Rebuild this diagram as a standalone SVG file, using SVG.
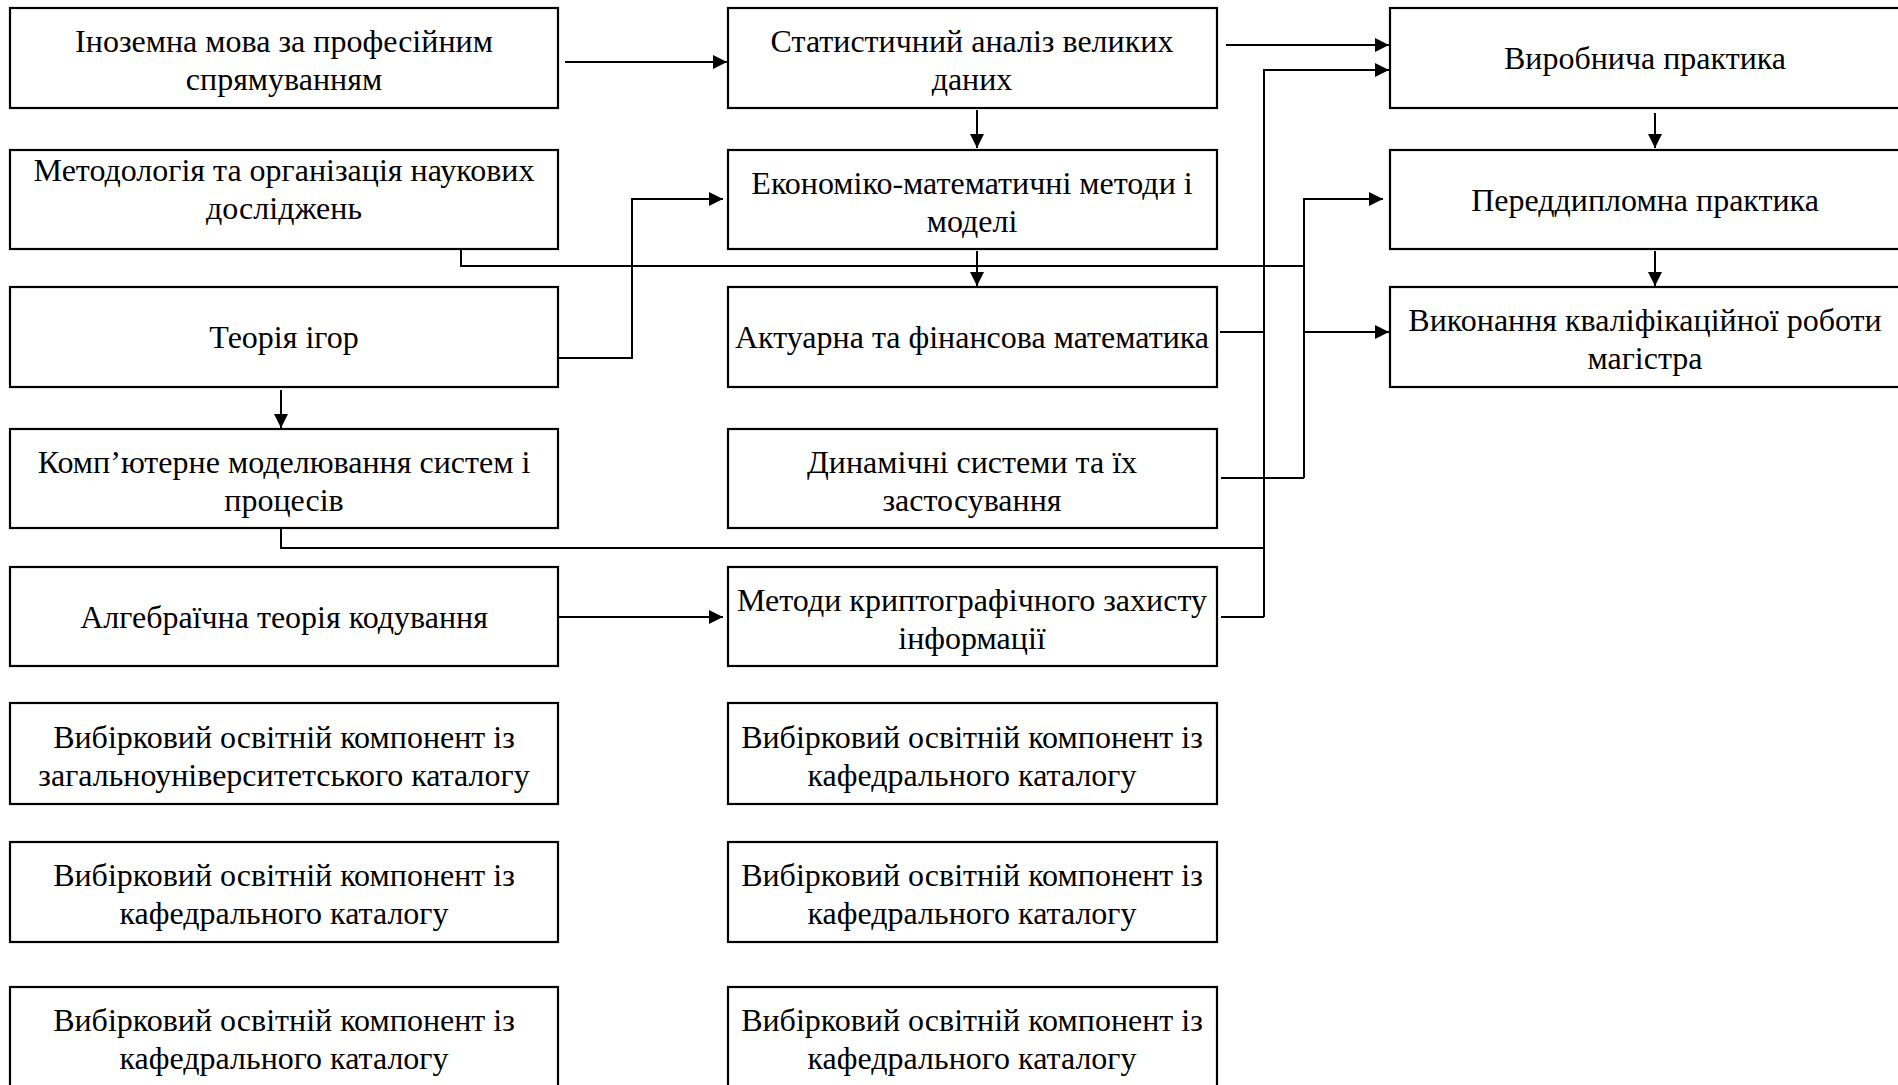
<svg xmlns="http://www.w3.org/2000/svg" width="1898" height="1085" viewBox="0 0 1898 1085">
<style>
.box{fill:#fff;stroke:#000;stroke-width:2.2}
.t{font-family:"Liberation Serif","Times New Roman",serif;font-size:32px;fill:#000;text-anchor:middle}
.c{fill:none;stroke:#000;stroke-width:2}
</style>
<defs>
<marker id="ah" markerUnits="userSpaceOnUse" markerWidth="16" markerHeight="16" refX="14" refY="7" orient="auto">
<path d="M0,0 L14,7 L0,14 Z" fill="#000"/>
</marker>
</defs>
<rect width="1898" height="1085" fill="#fff"/>
<g id="connectors">
<path class="c" d="M565,62 H727" marker-end="url(#ah)"/>
<path class="c" d="M1226,45 H1389" marker-end="url(#ah)"/>
<path class="c" d="M1264,617 V70 H1389" marker-end="url(#ah)"/>
<path class="c" d="M1220,332 H1264"/>
<path class="c" d="M281,529 V548 H1264"/>
<path class="c" d="M1221,617 H1264"/>
<path class="c" d="M977,110 V148" marker-end="url(#ah)"/>
<path class="c" d="M977,251 V286" marker-end="url(#ah)"/>
<path class="c" d="M558,358 H632 V199 H723" marker-end="url(#ah)"/>
<path class="c" d="M461,249 V266 H1304"/>
<path class="c" d="M1304,478 V199 H1383" marker-end="url(#ah)"/>
<path class="c" d="M1304,332 H1389" marker-end="url(#ah)"/>
<path class="c" d="M1221,478 H1304"/>
<path class="c" d="M281,390 V428" marker-end="url(#ah)"/>
<path class="c" d="M558,617 H723" marker-end="url(#ah)"/>
<path class="c" d="M1655,113 V148" marker-end="url(#ah)"/>
<path class="c" d="M1655,251 V286" marker-end="url(#ah)"/>
</g>
<g id="n1"><rect class="box" x="10" y="8" width="548" height="100"/><text class="t" x="284" y="52">Іноземна мова за професійним</text><text class="t" x="284" y="90">спрямуванням</text></g>
<g id="n2"><rect class="box" x="10" y="150" width="548" height="99"/><text class="t" x="284" y="181">Методологія та організація наукових</text><text class="t" x="284" y="219">досліджень</text></g>
<g id="n3"><rect class="box" x="10" y="287" width="548" height="100"/><text class="t" x="284" y="348">Теорія ігор</text></g>
<g id="n4"><rect class="box" x="10" y="429" width="548" height="99"/><text class="t" x="284" y="473">Комп’ютерне моделювання систем і</text><text class="t" x="284" y="511">процесів</text></g>
<g id="n5"><rect class="box" x="10" y="567" width="548" height="99"/><text class="t" x="284" y="628">Алгебраїчна теорія кодування</text></g>
<g id="n6"><rect class="box" x="10" y="703" width="548" height="101"/><text class="t" x="284" y="748">Вибірковий освітній компонент із</text><text class="t" x="284" y="786">загальноуніверситетського каталогу</text></g>
<g id="n7"><rect class="box" x="10" y="842" width="548" height="100"/><text class="t" x="284" y="886">Вибірковий освітній компонент із</text><text class="t" x="284" y="924">кафедрального каталогу</text></g>
<g id="n8"><rect class="box" x="10" y="987" width="548" height="110"/><text class="t" x="284" y="1031">Вибірковий освітній компонент із</text><text class="t" x="284" y="1069">кафедрального каталогу</text></g>
<g id="m1"><rect class="box" x="728" y="8" width="489" height="100"/><text class="t" x="972" y="52">Статистичний аналіз великих</text><text class="t" x="972" y="90">даних</text></g>
<g id="m2"><rect class="box" x="728" y="150" width="489" height="99"/><text class="t" x="972" y="194">Економіко-математичні методи і</text><text class="t" x="972" y="232">моделі</text></g>
<g id="m3"><rect class="box" x="728" y="287" width="489" height="100"/><text class="t" x="972" y="348">Актуарна та фінансова математика</text></g>
<g id="m4"><rect class="box" x="728" y="429" width="489" height="99"/><text class="t" x="972" y="473">Динамічні системи та їх</text><text class="t" x="972" y="511">застосування</text></g>
<g id="m5"><rect class="box" x="728" y="567" width="489" height="99"/><text class="t" x="972" y="611">Методи криптографічного захисту</text><text class="t" x="972" y="649">інформації</text></g>
<g id="m6"><rect class="box" x="728" y="703" width="489" height="101"/><text class="t" x="972" y="748">Вибірковий освітній компонент із</text><text class="t" x="972" y="786">кафедрального каталогу</text></g>
<g id="m7"><rect class="box" x="728" y="842" width="489" height="100"/><text class="t" x="972" y="886">Вибірковий освітній компонент із</text><text class="t" x="972" y="924">кафедрального каталогу</text></g>
<g id="m8"><rect class="box" x="728" y="987" width="489" height="110"/><text class="t" x="972" y="1031">Вибірковий освітній компонент із</text><text class="t" x="972" y="1069">кафедрального каталогу</text></g>
<g id="r1"><rect class="box" x="1390" y="8" width="530" height="100"/><text class="t" x="1645" y="69">Виробнича практика</text></g>
<g id="r2"><rect class="box" x="1390" y="150" width="530" height="99"/><text class="t" x="1645" y="211">Переддипломна практика</text></g>
<g id="r3"><rect class="box" x="1390" y="287" width="530" height="100"/><text class="t" x="1645" y="331">Виконання кваліфікаційної роботи</text><text class="t" x="1645" y="369">магістра</text></g>
</svg>
